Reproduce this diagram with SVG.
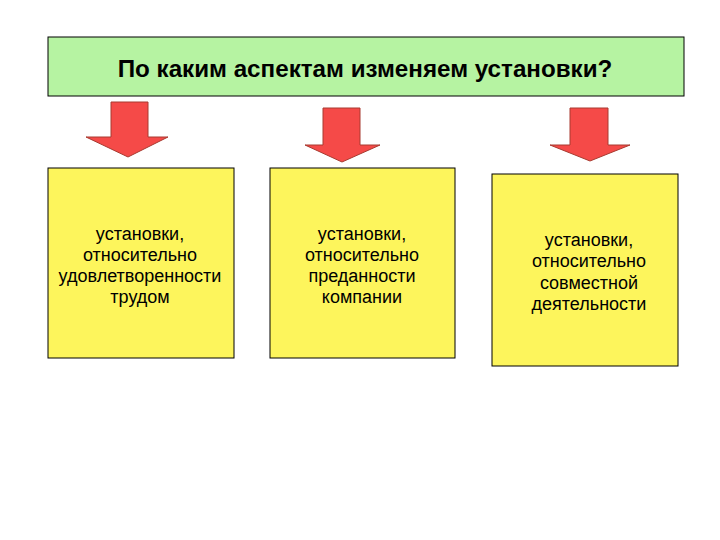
<svg xmlns="http://www.w3.org/2000/svg" width="720" height="540" viewBox="0 0 720 540">
<style>
.box{fill:#fdf55c;stroke:#000;stroke-width:1}
.t{font-family:"Liberation Sans",Arial,sans-serif;font-size:18px;fill:#000;text-anchor:middle}
.arrow{fill:#f54a48;stroke:#a83a30;stroke-width:1}
</style>
<rect width="720" height="540" fill="#fff"/>
<g id="title">
<rect x="48" y="37" width="636" height="59" fill="#b6f3a2" stroke="#000" stroke-width="1"/>
<text x="365" y="77" class="t" style="font-size:24.2px;font-weight:bold">По каким аспектам изменяем установки?</text>
</g>
<g id="connectors">
<path class="arrow" d="M111 102 H148 V137 H168 L128 157 L86 137 H111 Z"/>
<path class="arrow" d="M323 108 H360 V145 H380 L342 162 L305 145 H323 Z"/>
<path class="arrow" d="M570 108 H608 V145 H630 L590 161 L550 145 H570 Z"/>
</g>
<g id="node1">
<rect class="box" x="48" y="168" width="186" height="190"/>
<text class="t" x="140" y="240">установки,</text>
<text class="t" x="140" y="261">относительно</text>
<text class="t" x="140" y="282">удовлетворенности</text>
<text class="t" x="140" y="303">трудом</text>
</g>
<g id="node2">
<rect class="box" x="270" y="168" width="185" height="190"/>
<text class="t" x="362" y="240">установки,</text>
<text class="t" x="362" y="261">относительно</text>
<text class="t" x="362" y="282">преданности</text>
<text class="t" x="362" y="303">компании</text>
</g>
<g id="node3">
<rect class="box" x="492" y="174" width="186" height="192"/>
<text class="t" x="589" y="246">установки,</text>
<text class="t" x="589" y="267">относительно</text>
<text class="t" x="589" y="289">совместной</text>
<text class="t" x="589" y="310">деятельности</text>
</g>
</svg>
